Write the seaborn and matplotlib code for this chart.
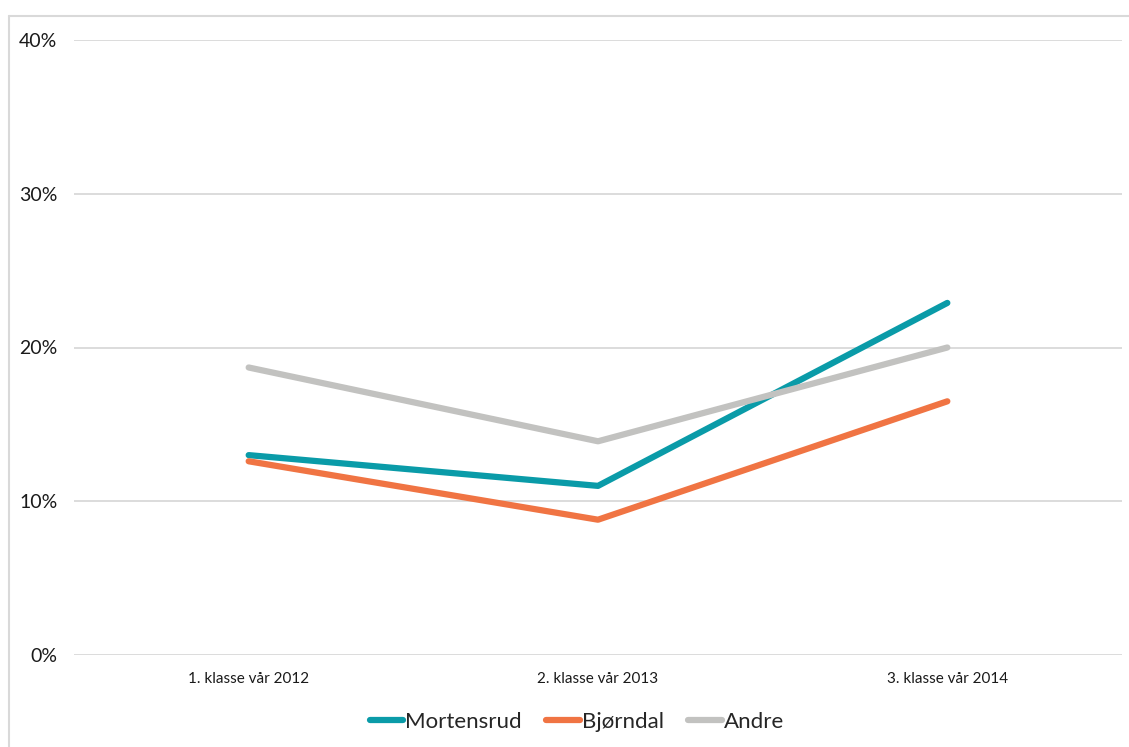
import matplotlib.pyplot as plt
import matplotlib.lines as mlines
import seaborn as sns
import pandas as pd
from matplotlib.ticker import PercentFormatter

# data
categories = ['1. klasse vår 2012', '2. klasse vår 2013', '3. klasse vår 2014']
mortensrud = [0.130, 0.110, 0.229]
bjorndal = [0.126, 0.088, 0.165]
andre = [0.187, 0.139, 0.200]
series_names = ['Mortensrud', 'Bjørndal', 'Andre']
colors = ['#0A9BA8', '#F07443', '#C2C2C0']

df = pd.DataFrame({
    'klasse': categories * 3,
    'andel': mortensrud + bjorndal + andre,
    'skole': [n for n in series_names for _ in categories],
})

sns.set_style('white')
plt.rcParams['font.family'] = ['Lato', 'DejaVu Sans']

fig = plt.figure(figsize=(11.29, 7.47), dpi=100)
ax = fig.add_axes([74 / 1129, 1 - 655 / 747, (1122 - 74) / 1129, (655 - 40) / 747])

sns.lineplot(data=df, x='klasse', y='andel', hue='skole', hue_order=series_names,
             palette=colors, linewidth=4.5, sort=False, ax=ax, legend=False,
             solid_capstyle='round')

ax.set_xlim(-0.5, 2.5)
ax.set_ylim(0, 0.4)
ax.set_yticks([0, 0.1, 0.2, 0.3, 0.4])
ax.yaxis.set_major_formatter(PercentFormatter(1.0, decimals=0))
ax.grid(axis='y', color='#D9D9D9', linewidth=1.3)
ax.set_axisbelow(True)
for s in ax.spines.values():
    s.set_visible(False)
ax.set_xlabel('')
ax.set_ylabel('')
ax.tick_params(axis='y', labelsize=14, pad=12, length=0, colors='#1a1a1a')
ax.tick_params(axis='x', labelsize=11, pad=12, length=0, colors='#1a1a1a')

handles = [mlines.Line2D([], [], color=c, linewidth=4.5, solid_capstyle='round')
           for c in colors]
fig.legend(handles, series_names, loc='center', bbox_to_anchor=(0.511, 1 - 722 / 747),
           ncol=3, frameon=False, fontsize=16, handlelength=1.5, handletextpad=0.1,
           columnspacing=1.1)

# outer chart border (top and left only, the rest is cropped)
fig.add_artist(mlines.Line2D([9 / 1129, 1], [1 - 16 / 747, 1 - 16 / 747],
                             transform=fig.transFigure, color='#D9D9D9', linewidth=1.5))
fig.add_artist(mlines.Line2D([9 / 1129, 9 / 1129], [0, 1 - 16 / 747],
                             transform=fig.transFigure, color='#D9D9D9', linewidth=1.5))

fig.savefig('out.png', dpi=100)
